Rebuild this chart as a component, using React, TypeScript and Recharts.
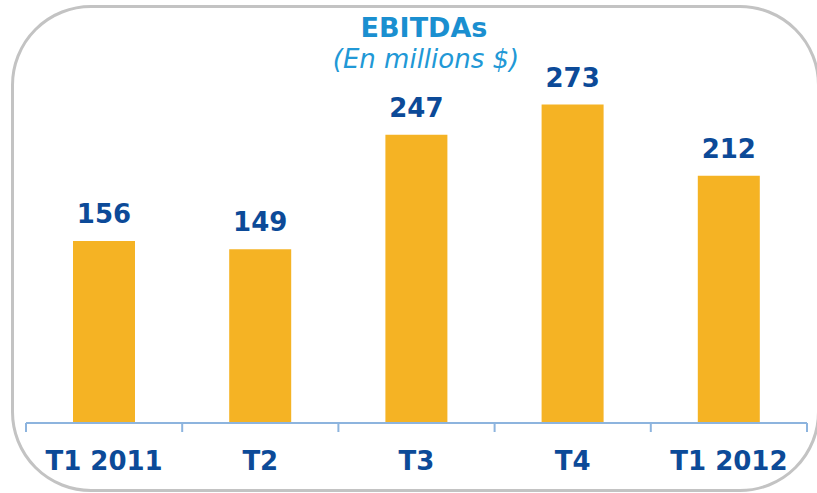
import React from 'react';
import { BarChart, Bar, XAxis, YAxis, LabelList } from 'recharts';

const quarters = ['T1 2011', 'T2', 'T3', 'T4', 'T1 2012'];
const ebitda = [156, 149, 247, 273, 212];

const data = quarters.map((name, i) => ({ name, value: ebitda[i] }));

const BAR_COLOR = '#f5b324';
const DARK_BLUE = '#0c4a98';
const AXIS_COLOR = '#8db4de';
const FONT = '"DejaVu Sans", Verdana, sans-serif';

const CHART_W = 817;
const MARGIN = { top: 73, right: 10, left: 26, bottom: 0 };
const BAND = (CHART_W - MARGIN.left - MARGIN.right) / quarters.length;

// category label plus the tick marks at the band boundaries
const QuarterTick = (props: any) => {
  const { x, y, payload, index, visibleTicksCount } = props;
  const left = x - BAND / 2;
  const right = x + BAND / 2;
  return (
    <g>
      <line x1={left} y1={y} x2={left} y2={y + 9} stroke={AXIS_COLOR} strokeWidth={2} />
      {index === visibleTicksCount - 1 && (
        <line x1={right} y1={y} x2={right} y2={y + 9} stroke={AXIS_COLOR} strokeWidth={2} />
      )}
      <text
        x={x}
        y={y + 47}
        textAnchor="middle"
        fill={DARK_BLUE}
        fontSize={26}
        fontWeight="bold"
        fontFamily={FONT}
      >
        {payload.value}
      </text>
    </g>
  );
};

const App: React.FC = () => {
  return (
    <div
      style={{
        position: 'fixed',
        left: 0,
        top: 0,
        width: 817,
        height: 493,
        overflow: 'hidden',
        background: '#fff',
      }}
    >
      <div
        style={{
          position: 'absolute',
          left: 11,
          top: 5,
          width: 809,
          height: 487,
          boxSizing: 'border-box',
          border: '3px solid #c3c3c3',
          borderRadius: 80,
        }}
      />
      <div
        style={{
          position: 'absolute',
          left: 0,
          top: 14,
          width: 848,
          textAlign: 'center',
          fontFamily: FONT,
          fontWeight: 'bold',
          fontSize: 27,
          lineHeight: '27px',
          color: '#1a8fd0',
        }}
      >
        EBITDAs
      </div>
      <div
        style={{
          position: 'absolute',
          left: 0,
          top: 46,
          width: 852,
          textAlign: 'center',
          fontFamily: FONT,
          fontStyle: 'italic',
          fontSize: 26,
          lineHeight: '26px',
          color: '#2198d6',
        }}
      >
        (En millions $)
      </div>
      <div style={{ position: 'absolute', left: 0, top: 0 }}>
        <BarChart width={CHART_W} height={493} data={data} margin={MARGIN} barSize={62}>
          <XAxis
            dataKey="name"
            height={70}
            axisLine={{ stroke: AXIS_COLOR, strokeWidth: 2 }}
            tickLine={false}
            tickSize={0}
            tickMargin={0}
            tick={QuarterTick}
            interval={0}
          />
          <YAxis hide domain={[0, 300]} />
          <Bar dataKey="value" fill={BAR_COLOR} isAnimationActive={false}>
            <LabelList
              dataKey="value"
              position="top"
              offset={18}
              fill={DARK_BLUE}
              fontSize={26}
              fontWeight="bold"
              fontFamily={FONT}
            />
          </Bar>
        </BarChart>
      </div>
    </div>
  );
};

export default App;
